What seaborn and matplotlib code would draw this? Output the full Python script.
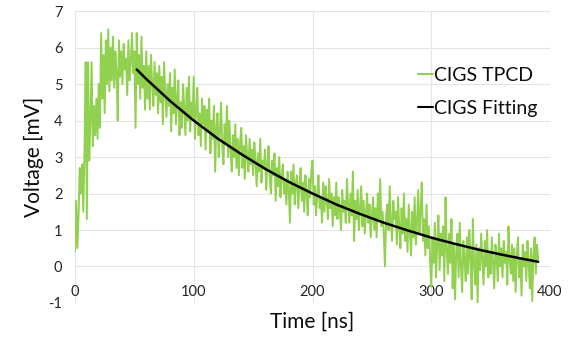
import numpy as np
import pandas as pd
import matplotlib
matplotlib.use("Agg")
import matplotlib.pyplot as plt
import seaborn as sns

# ---- data (1 ns sampling) ----
tpcd_mv = [
    0.4, 1.8, 0.5, 1.4, 2.7, 2.0, 2.8, 1.5, 3.1, 5.6,
    1.3, 5.6, 2.9, 4.0, 5.6, 3.3, 4.4, 3.6, 4.6, 3.5,
    5.0, 3.8, 6.4, 4.6, 5.8, 4.2, 6.2, 5.0, 6.5, 4.8,
    6.0, 5.1, 6.3, 4.9, 5.9, 5.3, 4.0, 6.2, 5.2, 5.9,
    5.0, 6.1, 5.4, 5.7, 4.7, 6.2, 5.1, 5.6, 6.4, 5.3,
    5.9, 3.8, 6.4, 5.0, 5.8, 4.6, 6.3, 4.9, 5.5, 4.3,
    5.9, 4.6, 5.5, 4.3, 5.8, 5.0, 4.4, 5.6, 4.7, 5.3,
    4.2, 5.5, 4.5, 5.2, 3.9, 5.6, 4.8, 4.1, 5.0, 4.4,
    5.3, 3.7, 4.9, 4.2, 5.4, 3.9, 4.6, 5.1, 3.6, 4.5,
    3.8, 5.0, 4.3, 3.6, 4.9, 4.0, 5.2, 3.7, 4.5, 4.1,
    5.2, 3.5, 4.3, 4.9, 3.6, 4.2, 3.3, 4.6, 3.9, 4.4,
    3.2, 4.3, 3.7, 4.6, 3.1, 4.0, 3.5, 4.4, 2.6, 3.8,
    4.2, 3.0, 3.7, 4.5, 3.3, 2.8, 3.9, 3.4, 4.4, 3.0,
    4.0, 3.2, 2.6, 3.6, 3.0, 3.9, 2.7, 3.5, 2.5, 3.4,
    3.8, 2.7, 3.3, 2.4, 3.6, 3.0, 2.6, 3.5, 2.8, 3.2,
    2.5, 3.4, 2.9, 2.2, 3.1, 2.6, 3.5, 2.3, 2.9, 2.7,
    3.2, 2.1, 2.8, 3.3, 2.4, 2.0, 2.9, 2.5, 3.1, 1.8,
    2.7, 2.2, 3.0, 1.9, 2.5, 2.8, 2.0, 2.4, 1.7, 2.6,
    2.1, 1.2, 2.6, 2.0, 2.8, 1.7, 2.3, 2.5, 1.6, 2.2,
    2.7, 1.8, 2.3, 1.5, 2.5, 2.0, 1.4, 2.4, 1.9, 2.6,
    2.9, 1.7, 2.2, 1.4, 2.0, 2.5, 1.6, 1.9, 1.2, 2.3,
    1.5, 2.2, 1.8, 1.3, 2.4, 1.6, 2.0, 1.1, 1.9, 1.4,
    2.3, 1.3, 1.9, 1.6, 1.0, 2.1, 1.5, 1.8, 1.2, 2.4,
    1.7, 1.2, 2.0, 1.4, 2.6, 0.7, 1.8, 1.3, 2.1, 1.0,
    1.6, 2.2, 1.1, 1.8, 0.9, 1.5, 2.0, 1.2, 1.7, 0.8,
    1.4, 1.9, 1.0, 1.6, 0.8, 2.0, 1.3, 2.4, 1.1, 1.5,
    0.9, 0.0, 1.4, 1.7, 1.0, 2.2, 1.2, 0.7, 1.8, 1.3,
    1.5, 0.6, 1.9, 1.1, 0.5, 1.6, 0.9, 2.0, 0.7, 1.3,
    0.4, 1.7, 1.0, 0.3, 1.5, 0.8, 1.9, 0.6, 1.2, 2.1,
    0.9, 1.5, 2.3, 0.7, 1.3, 0.3, 1.7, 0.5, 1.1, 0.2,
    -0.55, 0.8, 0.1, 1.2, -0.3, 0.6, 1.4, -0.1, 0.9, 0.3,
    1.1, -0.4, 1.9, 0.5, -0.2, 0.9, 0.1, 1.3, -0.6, 0.6,
    -0.9, 0.4, 0.9, -0.3, 1.2, 0.0, -0.7, 0.7, 0.2, -0.4,
    0.8, -0.2, 1.0, 0.3, -0.9, 1.3, 0.1, -0.5, 0.6, -1.0,
    0.5, -0.1, 0.9, 0.2, -0.5, 0.7, 0.0, 1.0, -0.3, 0.4,
    -0.2, 0.8, 0.1, -0.6, 0.6, 0.3, -0.4, 0.9, 0.0, 0.5,
    -0.3, 0.7, 0.1, 0.4, -0.5, 1.1, 0.2, -0.2, 0.6, -0.4,
    0.5, -0.7, 0.3, 0.8, -0.3, 0.2, -0.8, 0.6, 0.0, 0.4,
    -0.4, 0.7, 0.1, -0.6, 0.5, -0.95, 0.3, 0.8, -0.2, 0.6, 0.2,
]
tpcd_time_ns = list(range(len(tpcd_mv)))

fit_time_ns = [52, 60, 80, 100, 120, 140, 160, 180, 200, 220, 240,
               260, 280, 300, 320, 340, 360, 380, 390]
fit_mv = [5.40, 5.14, 4.54, 4.00, 3.51, 3.08, 2.68, 2.32, 2.00, 1.70, 1.44,
          1.20, 0.99, 0.79, 0.62, 0.46, 0.32, 0.19, 0.13]

x_ticks = [0, 100, 200, 300, 400]
y_ticks = [-1, 0, 1, 2, 3, 4, 5, 6, 7]

series_labels = ["CIGS TPCD", "CIGS Fitting"]
series_colors = ["#92D050", "#000000"]

# ---- style ----
sns.set_theme(style="white")
plt.rcParams["font.family"] = ["Lato", "DejaVu Sans"]

df_tpcd = pd.DataFrame({"t": tpcd_time_ns, "v": tpcd_mv})
df_fit = pd.DataFrame({"t": fit_time_ns, "v": fit_mv})

fig = plt.figure(figsize=(5.71, 3.37), dpi=100)
ax = fig.add_axes([0.1313, 0.101, 0.832, 0.866])

sns.lineplot(data=df_tpcd, x="t", y="v", ax=ax, color=series_colors[0],
             lw=1.4, estimator=None, label=series_labels[0])
sns.lineplot(data=df_fit, x="t", y="v", ax=ax, color=series_colors[1],
             lw=1.8, estimator=None, label=series_labels[1])

ax.set_xlim(0, 400)
ax.set_ylim(-1, 7)
ax.set_xticks(x_ticks)
ax.set_yticks(y_ticks)
ax.set_xticklabels([str(v) for v in x_ticks])
ax.set_yticklabels([str(v) for v in y_ticks])

ax.grid(True, color="#e4e4e4", lw=0.8)
ax.set_axisbelow(True)
for s in ["top", "right", "left"]:
    ax.spines[s].set_visible(False)
ax.spines["bottom"].set_position(("data", 0))
ax.spines["bottom"].set_visible(False)

ax.tick_params(axis="x", length=0, pad=13, labelsize=10.5, colors="#262626")
ax.tick_params(axis="y", length=0, pad=9, labelsize=10.5, colors="#262626")

ax.set_xlabel("Time [ns]", fontsize=15, color="#0d0d0d")
ax.xaxis.set_label_coords(0.5, -0.03)
ax.set_ylabel("Voltage [mV]", fontsize=15, color="#0d0d0d")
ax.yaxis.set_label_coords(-0.065, 0.5)

leg = ax.legend(loc="upper left", bbox_to_anchor=(0.705, 0.835), frameon=False,
                fontsize=14, handlelength=0.8, handletextpad=0.05,
                labelspacing=0.82, borderaxespad=0)
for h in leg.get_lines():
    h.set_linewidth(1.5)
for t in leg.get_texts():
    t.set_color("#0d0d0d")

fig.savefig("out.png", dpi=100)
